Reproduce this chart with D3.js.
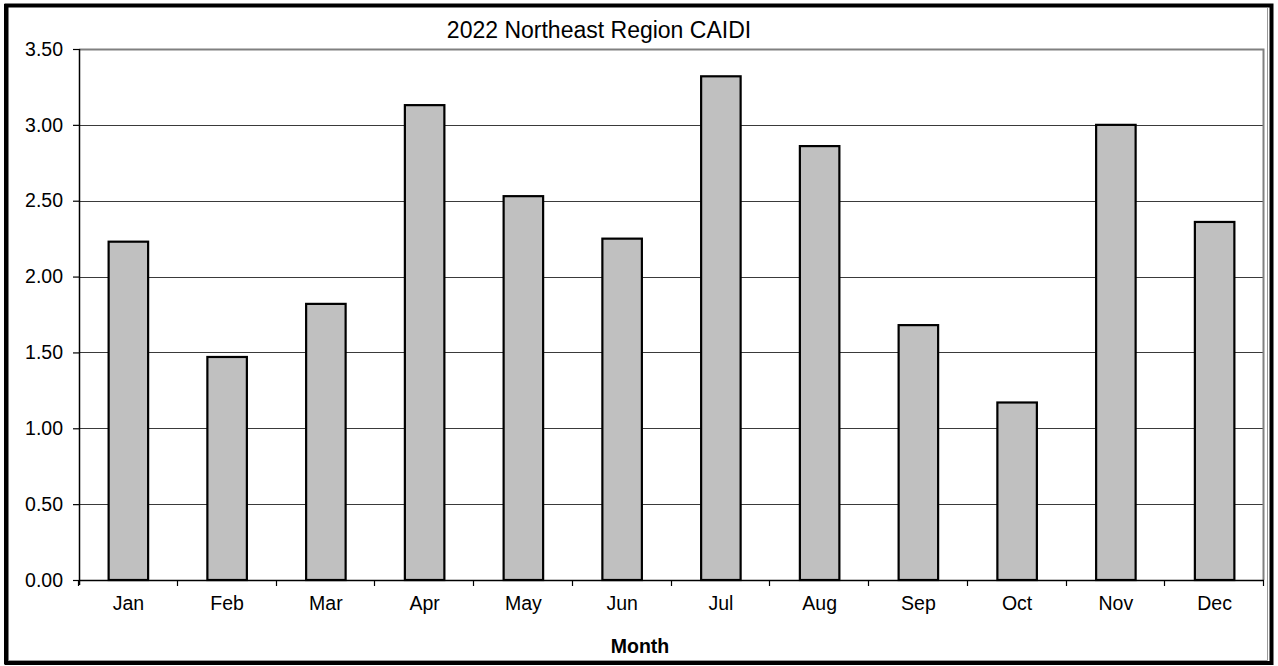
<!DOCTYPE html>
<html>
<head>
<meta charset="utf-8">
<script src="https://cdn.jsdelivr.net/npm/d3@7"></script>
<style>
  html, body { margin: 0; padding: 0; background: #fff; }
  svg { display: block; font-family: "Liberation Sans", Arial, sans-serif; }
</style>
</head>
<body>
<svg id="chart" width="1278" height="666"></svg>
<script>
// Monthly CAIDI values
const months = ["Jan", "Feb", "Mar", "Apr", "May", "Jun", "Jul", "Aug", "Sep", "Oct", "Nov", "Dec"];
const caidi = [2.23, 1.47, 1.82, 3.13, 2.53, 2.25, 3.32, 2.86, 1.68, 1.17, 3.00, 2.36];
const yTicks = [0, 0.5, 1.0, 1.5, 2.0, 2.5, 3.0, 3.5];
const titleText = "2022 Northeast Region CAIDI";
const xTitle = "Month";

const svg = d3.select("#chart");
const W = 1278, H = 666;
const plot = { left: 79, right: 1264, top: 49, bottom: 580 };

// Outer frame with a faint inner shadow line
svg.append("rect").attr("x", 0).attr("y", 0).attr("width", W).attr("height", H).attr("fill", "#fff");
svg.append("line").attr("x1", 9).attr("x2", 1267.5).attr("y1", 660.5).attr("y2", 660.5)
  .attr("stroke", "#9a9a9a").attr("stroke-width", 1);
svg.append("line").attr("x1", 1267.5).attr("x2", 1267.5).attr("y1", 8).attr("y2", 660.5)
  .attr("stroke", "#9a9a9a").attr("stroke-width", 1);
svg.append("rect").attr("x", 6.5).attr("y", 5.5).attr("width", 1265).attr("height", 657.5)
  .attr("fill", "none").attr("stroke", "#000").attr("stroke-width", 4);
svg.append("line").attr("x1", 5.5).attr("x2", 5.5).attr("y1", 4).attr("y2", 664)
  .attr("stroke", "#000").attr("stroke-width", 3);

const x = d3.scaleBand().domain(months).range([plot.left, plot.right]).paddingInner(0).paddingOuter(0);
const y = d3.scaleLinear().domain([0, 3.5]).range([plot.bottom, plot.top]);

// Horizontal gridlines
svg.append("g")
  .selectAll("line")
  .data(yTicks.filter(d => d > 0 && d < 3.5))
  .join("line")
  .attr("x1", plot.left).attr("x2", plot.right)
  .attr("y1", d => Math.round(y(d)) + 0.5).attr("y2", d => Math.round(y(d)) + 0.5)
  .attr("stroke", "#3a3a3a").attr("stroke-width", 1.2);

// Plot area top and right borders
svg.append("path")
  .attr("d", `M${plot.left},${plot.top + 0.5}H${plot.right - 0.5}V${plot.bottom}`)
  .attr("fill", "none").attr("stroke", "#808080").attr("stroke-width", 2);

// Bars
const barW = x.bandwidth() * 0.4;
svg.append("g")
  .selectAll("rect")
  .data(months.map((m, i) => ({ m, v: caidi[i] })))
  .join("rect")
  .attr("x", d => x(d.m) + (x.bandwidth() - barW) / 2)
  .attr("y", d => y(d.v))
  .attr("width", barW)
  .attr("height", d => y(0) - y(d.v))
  .attr("fill", "#c0c0c0")
  .attr("stroke", "#000")
  .attr("stroke-width", 2.2);

// Y axis
const yAxis = d3.axisLeft(y)
  .tickValues(yTicks)
  .tickFormat(d3.format(".2f"))
  .tickSize(6)
  .tickSizeOuter(0)
  .tickPadding(10);
const gy = svg.append("g").attr("transform", `translate(${plot.left},0)`).call(yAxis);
gy.select(".domain").attr("stroke", "#000").attr("stroke-width", 1.5)
  .attr("d", `M0.5,${plot.top}V${plot.bottom + 5}`);
gy.selectAll(".tick line").attr("stroke", "#000").attr("stroke-width", 1.2);
gy.selectAll(".tick text").attr("font-size", 19.5).attr("fill", "#000")
  .attr("font-family", "Liberation Sans, Arial, sans-serif");

// X axis: category labels centered, ticks at category boundaries
const xAxis = d3.axisBottom(x).tickSize(0).tickPadding(16);
const gx = svg.append("g").attr("transform", `translate(0,${plot.bottom})`).call(xAxis);
gx.select(".domain").remove();
gx.selectAll(".tick text").attr("font-size", 19.5).attr("fill", "#000")
  .attr("font-family", "Liberation Sans, Arial, sans-serif");
svg.append("line").attr("x1", plot.left).attr("x2", plot.right)
  .attr("y1", plot.bottom + 0.5).attr("y2", plot.bottom + 0.5)
  .attr("stroke", "#000").attr("stroke-width", 1.5);
const boundaries = months.map(m => x(m)).concat([x(months[months.length - 1]) + x.bandwidth()]);
svg.append("g").selectAll("line").data(boundaries).join("line")
  .attr("x1", d => Math.round(d) - 0.5).attr("x2", d => Math.round(d) - 0.5)
  .attr("y1", plot.bottom).attr("y2", plot.bottom + 6)
  .attr("stroke", "#000").attr("stroke-width", 1.2);

// Titles
svg.append("text").attr("x", 599).attr("y", 38).attr("text-anchor", "middle")
  .attr("font-size", 23).attr("fill", "#000").text(titleText);
svg.append("text").attr("x", 640).attr("y", 653).attr("text-anchor", "middle")
  .attr("font-size", 19.5).attr("font-weight", "bold").attr("fill", "#000").text(xTitle);
</script>
</body>
</html>
